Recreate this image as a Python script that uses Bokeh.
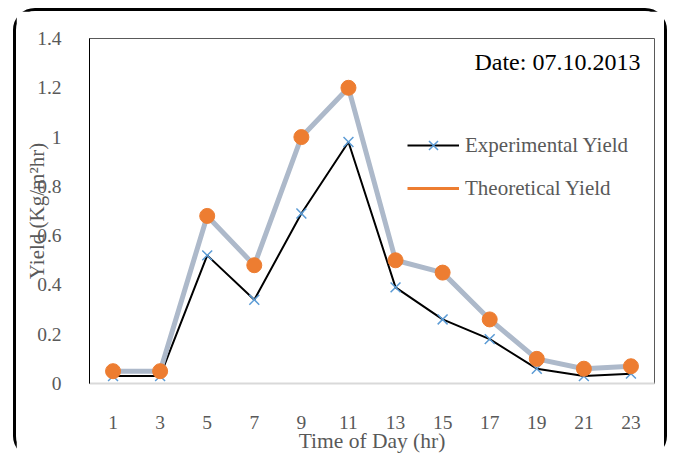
from bokeh.plotting import figure
from bokeh.models import Legend, LegendItem, Label, FixedTicker, Range1d
from bokeh.embed import file_html
from bokeh.resources import INLINE

hours = [1, 3, 5, 7, 9, 11, 13, 15, 17, 19, 21, 23]
experimental = [0.03, 0.03, 0.52, 0.34, 0.69, 0.98, 0.39, 0.26, 0.18, 0.06, 0.03, 0.04]
theoretical = [0.05, 0.05, 0.68, 0.48, 1.00, 1.20, 0.50, 0.45, 0.26, 0.10, 0.06, 0.07]
y_ticks = [0, 0.2, 0.4, 0.6, 0.8, 1.0, 1.2, 1.4]

FONT = "Liberation Serif"
GRAY = "#595959"

p = figure(width=648, height=441, output_backend="svg", toolbar_location=None,
           x_range=Range1d(0, 24), y_range=Range1d(0, 1.4),
           min_border_left=73, min_border_right=10, min_border_top=27, min_border_bottom=69,
           frame_width=565, frame_height=345)
p.styles = {"margin-left": "13px", "margin-top": "8px",
            "border": "3px solid black", "border-radius": "22px"}

p.xgrid.grid_line_color = None
p.ygrid.grid_line_color = None
p.outline_line_color = GRAY
p.outline_line_width = 1

p.xaxis.ticker = FixedTicker(ticks=hours)
p.yaxis.ticker = FixedTicker(ticks=y_ticks)
p.yaxis.major_label_overrides = {0: "0", 0.2: "0.2", 0.4: "0.4", 0.6: "0.6", 0.8: "0.8", 1.0: "1", 1.2: "1.2", 1.4: "1.4"}
for ax in (p.xaxis[0], p.yaxis[0]):
    ax.major_tick_line_color = None
    ax.minor_tick_line_color = None
    ax.major_label_text_font = FONT
    ax.major_label_text_font_size = "19.5px"
    ax.major_label_text_color = GRAY
    ax.axis_label_text_font = FONT
    ax.axis_label_text_font_style = "normal"
    ax.axis_label_text_color = GRAY
p.xaxis.axis_line_color = "#d9d9d9"
p.xaxis.axis_line_width = 2
p.yaxis.axis_line_color = "black"
p.xaxis.major_label_standoff = 26
p.yaxis.major_label_standoff = 22
p.yaxis.axis_label = "Yield (Kg/m\u00b2hr)"
p.yaxis.axis_label_text_font_size = "21px"
p.yaxis.axis_label_standoff = -15
p.xaxis.axis_label = "Time of Day (hr)"
p.xaxis.axis_label_text_font_size = "21.5px"
p.xaxis.axis_label_standoff = -3

exp_line = p.line(hours, experimental, line_color="black", line_width=2)
exp_pts = p.scatter(hours, experimental, marker="x", size=14, line_color="#5B9BD5", line_width=1.5)
p.line(hours, theoretical, line_color="#ADB9CA", line_width=5)
p.scatter(hours, theoretical, marker="circle", size=15, fill_color="#ED7D31", line_color="#ED7D31")
theo_leg = p.line(hours[:1], theoretical[:1], line_color="#ED7D31", line_width=3)

legend = Legend(items=[LegendItem(label="Experimental Yield", renderers=[exp_line, exp_pts]),
                       LegendItem(label="Theoretical Yield", renderers=[theo_leg])],
                location=(318, 179), orientation="vertical",
                glyph_width=52, glyph_height=32, label_height=32, spacing=11,
                label_standoff=6, padding=0, margin=0,
                border_line_color=None, background_fill_alpha=0,
                label_text_font=FONT, label_text_font_size="21px", label_text_color=GRAY)
p.add_layout(legend, "center")

p.add_layout(Label(x=23.4, y=1.303, text="Date: 07.10.2013", text_align="right", text_baseline="middle",
                   text_font=FONT, text_font_size="24px", text_color="black"))

open("out.html", "w").write(file_html(p, INLINE))
